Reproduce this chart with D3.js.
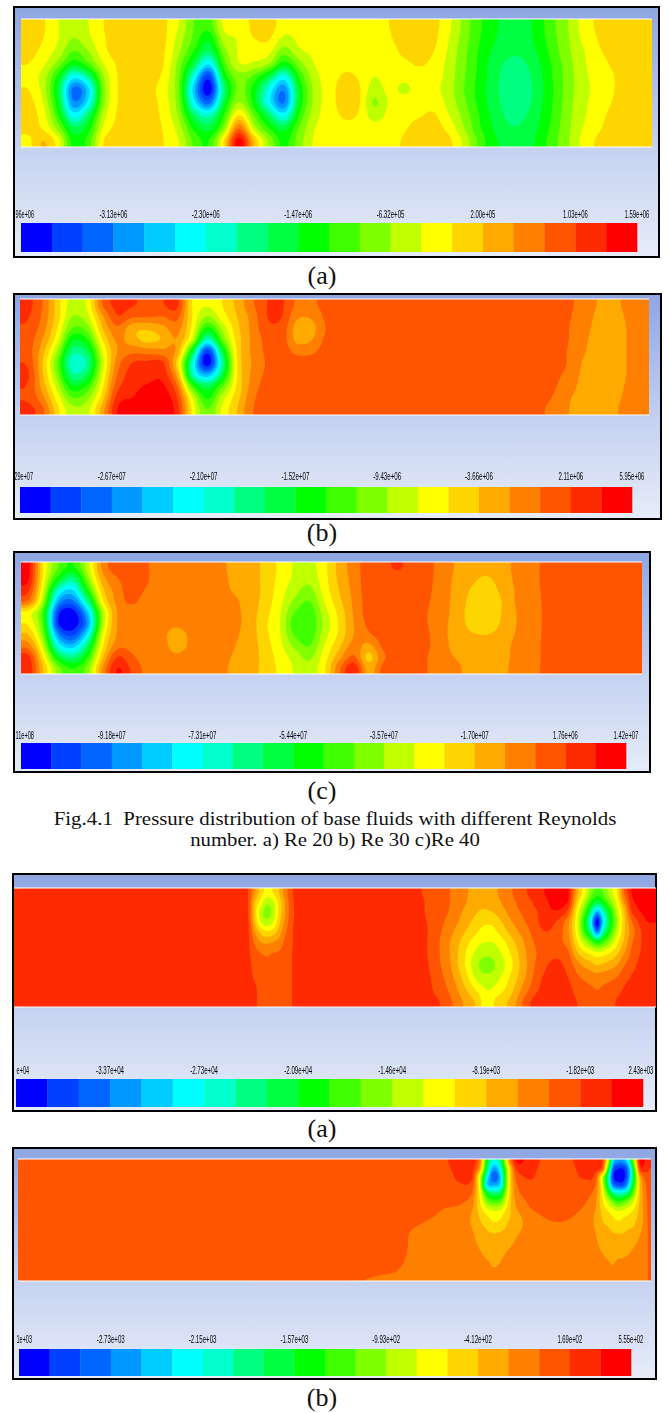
<!DOCTYPE html>
<html>
<head>
<meta charset="utf-8">
<script src="https://cdn.jsdelivr.net/npm/d3@7"></script>
<style>
  html, body { margin: 0; padding: 0; background: #fff; }
  svg { display: block; }
</style>
</head>
<body>
<script>
// the 20 pressure bands of the legend, low to high
var bandColors = ["#0000ff","#0040ff","#0066ff","#0099ff","#00ccff","#00ffff","#00ffcc","#00ff80","#00ff40","#00ff00",
                  "#40ff00","#80ff00","#bfff00","#ffff00","#ffd500","#ffaa00","#ff8000","#ff5500","#ff2b00","#ff0000"];

// legend ticks sit on these band edges
var tickBands = [0, 3, 6, 9, 12, 15, 18, 20];
var ticksA1 = ["96e+06","-3.13e+06","-2.30e+06","-1.47e+06","-6.32e+05","2.00e+05","1.03e+06","1.59e+06"];
var ticksB1 = ["29e+07","-2.67e+07","-2.10e+07","-1.52e+07","-9.43e+06","-3.66e+06","2.11e+06","5.95e+06"];
var ticksC1 = ["11e+08","-9.18e+07","-7.31e+07","-5.44e+07","-3.57e+07","-1.70e+07","1.76e+06","1.42e+07"];
var ticksA2 = ["e+04","-3.37e+04","-2.73e+04","-2.09e+04","-1.46e+04","-8.19e+03","-1.82e+03","2.43e+03"];
var ticksB2 = ["1e+03","-2.73e+03","-2.15e+03","-1.57e+03","-9.93e+02","-4.12e+02","1.69e+02","5.55e+02"];

var fieldA1 = [
[14.5,14.5,14.3,14,13.4,14,14.3,14.4,14.3,13.8],
[14.1,14,13.7,13.2,12.5,12.5,12.9,13.4,13.8,15],
[13,13,12.6,11.5,9.5,8.5,9,10,11.5,13.3],
[12.5,12,11,9.3,5.5,2.7,3.2,5.5,8.2,9.5],
[13,12.8,12,10.8,7.5,4.8,5.5,8,9.5,10.5],
[14,13.9,13.7,13,12,11.5,11.7,12.5,13.2,14],
[14.5,14.5,14.5,14.2,14.1,14.1,14.1,14.2,14.3,14.5],
[14.5,14.5,14.5,14.5,14.5,14.5,14.5,14.5,14.5,14.5],
[14.5,14.5,14.5,14.5,14.4,14.3,14.4,14.4,14.5,14.5],
[14.2,14.2,14.1,14,13.7,13.4,13.5,13.7,13.9,14],
[13,12.6,12.2,11.6,11.2,11.1,11.3,11.8,12.5,13],
[11,10.8,10,8.5,6,4.5,5.5,8,9.7,10.8],
[10.5,9.3,8,5.2,1.5,0.3,2.5,6.5,8.5,10],
[13.2,12.5,11.5,10.5,9,7.5,8.5,10,11.5,14],
[13.2,13.1,13.1,12.9,11.5,11.3,12,14,16.8,19.5],
[14.3,14,13.4,12.8,10.7,9.5,9.5,11,12.5,15],
[14.5,14.1,13.3,12,8.5,6,5.5,8,10,11.8],
[13.4,12.8,11.5,9.5,5.8,3.2,2.9,5.5,8.5,9.7],
[13.3,13.2,12.8,11.5,10,9,9,10,11,11.5],
[13.5,13.4,13.2,13,12.5,12.2,12.2,12.5,12.9,13.1],
[13.5,13.5,13.5,13.5,13.5,13.5,13.5,13.5,13.5,13.5],
[13.7,13.7,13.7,13.8,14.1,14.4,14.4,14.1,13.8,13.7],
[13.7,13.7,13.7,13.7,13.9,14.1,14.1,13.9,13.7,13.6],
[13.7,13.6,13.6,13.4,13,12.5,11.9,12.5,13.4,13.6],
[14,13.9,13.7,13.6,13.5,13.3,13.1,13.3,13.6,13.7],
[14.5,14.4,14.2,13.8,13.3,12.8,13.5,13.7,13.9,14.1],
[14.6,14.6,14.4,14.1,13.6,13.4,13.4,13.9,14.3,14.5],
[14.3,14.2,14,13.7,13.5,13.3,13.6,14.1,14.4,14.5],
[13.2,13,12.8,12.6,12.5,12.4,12.6,13,13.6,14.2],
[11.6,11.5,11.3,11.2,11.1,11,11.2,11.6,12,12.7],
[10.2,10.1,9.9,9.8,9.7,9.6,9.7,10,10.2,10.7],
[9.2,9.1,8.8,8.5,8.4,8.3,8.4,8.6,8.9,9.2],
[8.6,8.4,8.2,7.8,7.5,7.5,7.6,7.8,8.1,8.5],
[8.6,8.5,8.3,7.9,7.6,7.5,7.6,7.9,8.2,8.3],
[9.6,9.5,9.2,8.9,8.7,8.6,8.7,8.9,9.1,9.4],
[10.9,10.8,10.6,10.3,10.2,10.1,10.2,10.3,10.5,10.7],
[12.1,12,11.9,11.7,11.6,11.6,11.7,11.8,11.9,12],
[13.5,13.3,13,12.9,12.8,12.7,12.8,12.9,13.1,13.4],
[14.2,14.1,13.9,13.6,13.4,13.4,13.5,13.7,13.9,14.2],
[14.5,14.5,14.4,14.2,14,14,14.1,14.3,14.4,14.5],
[14.5,14.5,14.5,14.5,14.5,14.5,14.5,14.5,14.5,14.5],
[14.5,14.5,14.5,14.5,14.5,14.5,14.5,14.5,14.5,14.5]
];

var fieldB1 = [
[18.3,18.1,17.8,17.5,17.5,17.8,18.2,17.9,17.8,18.4],
[17,16.8,16.5,16,15.4,15,15.2,15.6,16.3,17.2],
[14.5,14.5,14,13.3,12,11,11.5,12.5,13.5,14.3],
[12.5,12,11,9.2,7.5,6.4,7.3,9.2,11,12.3],
[13.2,12.7,11.5,10,8.3,7.2,8.3,10.2,11.7,12.7],
[17,15.8,15,14,13,12.5,13,13.7,14.5,15.5],
[18.3,17.9,16.8,16.2,16,16.5,17,17.6,18.4,19],
[18.1,17.2,15.4,15.4,16.7,18,18.4,18.6,19,19.5],
[17.6,17.1,15.2,14.7,16.5,18.2,18.5,19.1,19.5,19.6],
[17.9,17,15.7,15.1,16.3,18.2,18.6,19.2,19.6,19.6],
[18.2,17.3,16.4,15.9,15.6,14.5,15.5,17,18,18.5],
[14,14,13.7,12.7,9,6.5,7,10.5,13,13.8],
[13.1,12,9.8,6.5,1.5,0.3,4,8.2,9.8,11],
[14,13.5,12.3,11,8.5,7,8.3,10.8,12.5,13.2],
[15.3,15,14.7,14.4,14.2,14,14,14.2,14.6,15],
[16.8,16.4,16.3,16.2,16.2,16.1,16.2,16.4,16.7,16.9],
[18,18,17.7,17.3,17.2,17.1,17.2,17.4,17.5,17.5],
[18.1,18,17.6,17.5,17.5,17.5,17.5,17.5,17.5,17.5],
[16.8,16.2,15.6,15.7,16.7,17.4,17.5,17.5,17.5,17.5],
[16.8,16.2,15.7,16,16.8,17.4,17.5,17.5,17.5,17.5],
[17.4,17.3,17.1,17.3,17.5,17.5,17.5,17.5,17.5,17.5],
[17.5,17.5,17.5,17.5,17.5,17.5,17.5,17.5,17.5,17.5],
[17.5,17.5,17.5,17.5,17.5,17.5,17.5,17.5,17.5,17.5],
[17.5,17.5,17.5,17.5,17.5,17.5,17.5,17.5,17.5,17.5],
[17.5,17.5,17.5,17.5,17.5,17.5,17.5,17.5,17.5,17.5],
[17.5,17.5,17.5,17.5,17.5,17.5,17.5,17.5,17.5,17.5],
[17.5,17.5,17.5,17.5,17.5,17.5,17.5,17.5,17.5,17.5],
[17.5,17.5,17.5,17.5,17.5,17.5,17.5,17.5,17.5,17.5],
[17.5,17.5,17.5,17.5,17.5,17.5,17.5,17.5,17.5,17.5],
[17.5,17.5,17.5,17.5,17.5,17.5,17.5,17.5,17.5,17.5],
[17.5,17.5,17.5,17.5,17.5,17.5,17.5,17.5,17.5,17.5],
[17.5,17.5,17.5,17.5,17.5,17.5,17.5,17.5,17.5,17.5],
[17.5,17.5,17.5,17.5,17.5,17.5,17.5,17.5,17.5,17.5],
[17.5,17.5,17.5,17.5,17.5,17.5,17.5,17.5,17.5,17.5],
[17.5,17.5,17.5,17.5,17.5,17.5,17.4,17.3,17.2,17.2],
[17.5,17.5,17.5,17.5,17.4,17.4,17.3,17.2,17,16.8],
[17.3,17.2,17.1,17.1,17,17,16.8,16.5,16.2,16.1],
[16.6,16.5,16.4,16.3,16.2,16,15.9,15.8,15.7,15.6],
[16,15.9,15.8,15.7,15.6,15.5,15.5,15.5,15.5,15.5],
[15.8,15.7,15.6,15.5,15.5,15.5,15.5,15.6,15.7,15.8],
[16.2,16.1,16,16,16,16,16,16.1,16.2,16.3],
[16.9,16.9,16.8,16.8,16.8,16.8,16.8,16.9,16.9,16.9]
];

var fieldC1 = [
[19.3,19.1,18.2,16.8,13.6,13.8,15,16.5,18.3,18.7],
[14,13.7,13,12,10.3,10.5,11.3,12.6,14,15],
[11,9.5,6.5,4,1.6,1.2,3.5,6,9,11.5],
[9.8,7.5,5,2.8,0.5,0.3,1.8,4.5,7.5,10],
[12.5,11.5,9.8,7.3,4.5,3.5,5.5,8,10,11.5],
[16.2,15.5,14.6,13.7,12,12,13,13.8,14.8,16],
[17.6,16.9,16.5,16.3,16,16,16.1,16.6,18,19],
[17.7,17.6,17.5,17.2,16.5,16.5,16.5,16.7,17.2,17.8],
[17.1,17.1,16.9,16.5,16.5,16.5,16.5,16.5,16.5,16.7],
[16.5,16.5,16.5,16.5,16.4,16.4,16.3,16.4,16.5,16.5],
[16.5,16.5,16.5,16.5,16.5,16.2,15.6,15.6,16.2,16.5],
[16.5,16.5,16.5,16.5,16.5,16.5,16.2,16.2,16.5,16.5],
[16.5,16.5,16.5,16.5,16.5,16.5,16.5,16.5,16.5,16.5],
[16.2,16.2,16.2,16.2,16.2,16.2,16.2,16.2,16.2,16.2],
[15.7,15.8,15.9,16.1,16.2,16.2,16.1,16,15.9,15.8],
[15.5,15.5,15.5,15.5,15.5,15.5,15.5,15.5,15.5,15.5],
[14.7,14.7,14.7,14.6,14.4,14.2,14.3,14.5,14.6,14.6],
[13.8,13.7,13.5,13.3,13.1,13,13.1,13.3,13.6,13.8],
[12.9,12.8,12.4,11.8,11,10.4,10.9,11.8,12.6,12.9],
[12.6,12.3,11.7,11,10.4,10.2,10.4,11,11.8,12.4],
[13.7,13.6,13.4,13,12.5,12.2,12.5,13,13.5,13.8],
[15.3,15.2,15,14.7,14.3,14.1,14.2,14.8,15.6,16.7],
[16.5,16.4,16.3,16.2,16.1,16,16,16.4,17.2,18.8],
[17.5,17.5,17.5,17.4,17.4,17.2,16.8,15.7,14.7,15.5],
[17.7,17.5,17.5,17.5,17.5,17.5,17.5,17.2,16.8,17.3],
[18.1,17.5,17.5,17.5,17.5,17.5,17.5,17.5,17.5,17.5],
[17.5,17.5,17.5,17.5,17.5,17.5,17.5,17.5,17.5,17.5],
[17.4,17.3,17.2,17.1,17,17,17.1,17.1,17,17],
[16.4,16.4,16.4,16.4,16.4,16.3,16.3,16.4,16.4,16.4],
[15.9,15.8,15.7,15.6,15.5,15.5,15.5,15.6,15.9,16.2],
[15.4,15.2,14.9,14.7,14.6,14.7,15.1,15.4,15.5,15.5],
[15.3,14.9,14.6,14.5,14.5,14.6,15,15.4,15.5,15.5],
[15.5,15.4,15.2,15,15,15.1,15.3,15.5,15.5,15.6],
[16.3,16.2,16.1,16.1,16,16,16.1,16.3,16.4,16.5],
[16.7,16.7,16.6,16.5,16.4,16.4,16.5,16.6,16.6,16.7],
[17.2,17.2,17.2,17.2,17.2,17.2,17.2,17.2,17.2,17.2],
[17.5,17.5,17.5,17.5,17.5,17.5,17.5,17.5,17.5,17.5],
[17.5,17.5,17.5,17.5,17.5,17.5,17.5,17.5,17.5,17.5],
[17.5,17.5,17.5,17.5,17.5,17.5,17.5,17.5,17.5,17.5],
[17.5,17.5,17.5,17.5,17.5,17.5,17.5,17.5,17.5,17.5],
[17.5,17.5,17.5,17.5,17.5,17.5,17.5,17.5,17.5,17.5],
[17.5,17.5,17.5,17.5,17.5,17.5,17.5,17.5,17.5,17.5]
];

// the nanofluid plots have tight peaks, so their stations are closer together there
var stationsA2 = [86,221,234,241,247,253,259,265,271,278,286,386,408,422,436,451,464,473,482,497,513,527,542,554,563,570,577,583,589,596,603,610,618,631];
var depthsA2 = [5,14,24,34,44,54,65,77,89,102,114];
var fieldA2 = [
[18.5,18.5,18.5,18.5,18.5,18.5,18.5,18.5,18.5,18.5,18.5],
[18.5,18.5,18.5,18.5,18.5,18.5,18.5,18.5,18.5,18.5,18.5],
[18,18,18,18.1,18.2,18.2,18.2,18.3,18.3,18.4,18.4],
[15.9,15,14.6,15,16,16.8,17.4,17.7,17.9,18.1,18.1],
[14.5,13.5,12.5,13,14.7,16,17,17.5,17.7,17.8,17.8],
[13.5,12.2,11.7,12.3,14.2,15.8,16.8,17.3,17.5,17.6,17.6],
[14,12.8,12.3,13,14.5,16,17,17.4,17.5,17.6,17.6],
[15,14.3,14.3,14.7,15.5,16.4,17.1,17.5,17.6,17.6,17.6],
[16.5,16,16,16.3,16.8,17.2,17.5,17.6,17.6,17.6,17.6],
[17.9,17.8,17.7,17.8,17.9,17.9,18,18,18,18,18],
[18.5,18.5,18.5,18.5,18.5,18.5,18.5,18.5,18.5,18.5,18.5],
[18.5,18.5,18.5,18.5,18.5,18.5,18.5,18.5,18.5,18.5,18.5],
[18,18.1,18.1,18.2,18.3,18.3,18.3,18.4,18.5,18.5,18.5],
[17.5,17.5,17.5,17.5,17.4,17.3,17.3,17.4,17.6,17.8,18.2],
[17,17,16.9,16.6,16.3,16,16,16.1,16.4,16.8,17.2],
[16.2,16.1,15.8,15.5,15,14.5,14.1,14,14.5,15.2,15.8],
[15.4,15.3,15,14.5,14,13.3,12.6,12.1,12.6,13.8,14.7],
[15.3,15.2,14.9,14.2,13.4,13,12.2,11.7,12.2,13,13.1],
[15.9,15.7,15.2,14.5,13.9,13.2,12.6,12.1,12.6,13.4,14.3],
[16.9,16.7,16.4,15.9,15.3,14.6,14.1,13.8,14.2,14.7,15.3],
[18,17.7,17.4,17.1,16.7,16.3,16.1,16,16.2,16.8,17.6],
[18.8,18.5,18.2,18.1,17.9,17.5,17.3,17.6,17.9,18.2,18.7],
[19.5,19.4,18.9,18,17.7,17.4,17.8,18.2,18.4,18.6,18.9],
[19.2,18.9,17.6,16.3,16.2,16.5,17.2,17.7,18,18.3,18.4],
[15.5,14.7,13.7,13.3,13.5,14.2,15.2,16.5,17.2,17.7,18],
[13.5,12.5,11,9.8,10.5,12.5,14.3,15.8,16.8,17.4,17.7],
[11.5,10,7.5,5.5,7.5,11,13.7,15.4,16.5,17.2,17.5],
[10.5,8.5,4,0.3,3,9.5,13.2,15,16.4,17,17.5],
[11,9.5,6.5,5,7,10.5,13.5,15.2,16.5,17.2,17.5],
[12.5,11.5,9.5,9,10,12,14,15.5,16.7,17.4,17.6],
[14,13.3,12.5,12,12.7,13.7,14.8,16,17,17.7,18.1],
[17,16,14.9,14.7,14.8,15.2,16,16.9,17.6,18.1,18.3],
[19.1,18.7,18.1,17,16.6,16.9,17.3,17.7,18.1,18.4,18.5],
[19.5,19.5,19.2,18.9,18.4,18.3,18.3,18.5,18.5,18.5,18.5]
];

var stationsB2 = [82,232,377,402,427,442,454,462,469,476,483,490,498,510,522,537,552,567,577,584,590,595,600,605,610,616,622,628,632];
var depthsB2 = [2,10,18,26,34,42,52,63,76,91,106,119];
var fieldB2 = [
[17.5,17.5,17.5,17.5,17.5,17.5,17.5,17.5,17.5,17.5,17.5,17.5],
[17.5,17.5,17.5,17.5,17.5,17.5,17.5,17.5,17.5,17.5,17.5,17.5],
[17.5,17.5,17.5,17.5,17.5,17.5,17.5,17.5,17.5,17.5,17.2,16.9],
[17.5,17.5,17.5,17.5,17.5,17.5,17.5,17.1,16.6,16.5,16.5,16.5],
[17.9,17.8,17.6,17.5,17.4,17.3,16.9,16.6,16.5,16.5,16.5,16.5],
[18.4,18.3,18.2,17.9,17.6,17.2,16.7,16.5,16.5,16.5,16.5,16.5],
[18.6,18.4,18.1,17.5,17,16.5,16,15.9,16.2,16.5,16.5,16.5],
[16.5,15.5,13,13,13.7,14,14.6,15.1,15.4,16,16.4,16.5],
[9,8,6,5,9,11.5,13.5,14.6,15.2,15.6,16.2,16.5],
[6,3.5,2,4,7.5,10.5,13,14,15.1,15.5,15.9,16.5],
[8,6.5,5,5.5,8.5,11,13.3,14.3,15.2,15.7,16.1,16.5],
[15,13,13,13,13.5,14,14.6,15,15.4,16,16.4,16.5],
[19,18,17.2,16.8,16.5,16.2,15.8,15.3,15.9,16.3,16.5,16.5],
[18.7,18.3,18.1,17.7,17.4,17.1,16.8,16.5,16.5,16.5,16.5,16.5],
[18,17.9,17.8,17.7,17.6,17.4,17.1,16.8,16.5,16.5,16.5,16.5],
[17.6,17.6,17.6,17.6,17.5,17.5,17.3,17,16.6,16.5,16.5,16.5],
[17.9,17.8,17.7,17.6,17.5,17.4,17.2,16.9,16.5,16.5,16.5,16.5],
[18.4,18.3,18.1,17.7,17.4,17.1,16.8,16.5,16.5,16.5,16.5,16.5],
[18.5,18.3,17.7,17.1,16.6,16.3,16,15.9,16.1,16.4,16.5,16.5],
[18.3,17.5,13.2,13.5,14,14.3,14.8,15.1,15.4,15.9,16.4,16.5],
[13,10.5,7.5,8,10.5,12.6,14,14.8,15.3,15.6,16.2,16.5],
[5,2.5,1.5,3,7.5,11,13.4,14.4,15.1,15.4,16,16.5],
[3.5,1,0.2,2,6.5,10,13,14.1,15.1,15.5,16.3,16.5],
[3.5,1,0.4,2,6.5,10.5,13.2,14.3,15.1,15.6,16.3,16.5],
[5.5,3,3,4.5,8,11.5,13.6,14.5,15.3,15.8,16.4,16.5],
[12,10,9,10,11.5,13,14.2,14.8,15.5,16.1,16.5,16.5],
[19.2,18,15.5,15,15,15.2,15.4,15.6,16,16.4,16.5,16.5],
[18.8,18.3,17.5,17,16.9,16.7,16.6,16.5,16.5,16.5,16.5,16.5],
[18.3,18,17.6,17.5,17.5,17.5,17.5,17.5,17.5,17.5,17.5,17.5]
];

var captionLines = ["Fig.4.1  Pressure distribution of base fluids with different Reynolds", "number. a) Re 20 b) Re 30 c)Re 40"];
var captionWidths = [563, 290];

// layout of each window: frame, plot area, legend bar, label under it
var panels = [
  {field: fieldA1, ticks: ticksA1, name: "(a)", frame: [14, 7, 659, 257], plot: [21, 19, 652, 147], bar: [21, 223, 637, 252], tickY: 218, nameY: 284},
  {field: fieldB1, ticks: ticksB1, name: "(b)", frame: [14, 294, 661, 519], plot: [20, 299, 649, 415], bar: [20, 487, 632, 513], tickY: 480, nameY: 541},
  {field: fieldC1, ticks: ticksC1, name: "(c)", frame: [14, 552, 650, 772], plot: [21, 562, 642, 674], bar: [21, 743, 626, 769], tickY: 739, nameY: 799},
  {field: fieldA2, ticks: ticksA2, name: "(a)", stations: stationsA2, depths: depthsA2, frame: [13, 874, 656, 1111], plot: [14, 888, 656, 1007], bar: [16, 1079, 643, 1107], tickY: 1074, nameY: 1137},
  {field: fieldB2, ticks: ticksB2, name: "(b)", stations: stationsB2, depths: depthsB2, frame: [13, 1148, 656, 1379], plot: [18, 1159, 651, 1281], bar: [19, 1349, 631, 1376], tickY: 1343, nameY: 1406}
];

var width = 669, height = 1413;
var steps = 8; // samples per grid cell when the field is contoured

var svg = d3.select("body").append("svg")
  .attr("width", width)
  .attr("height", height)
  .attr("viewBox", "0 0 " + width + " " + height);

var defs = svg.append("defs");

var grad = defs.append("linearGradient")
  .attr("id", "frameFill")
  .attr("x1", 0).attr("y1", 0).attr("x2", 0).attr("y2", 1);
grad.append("stop").attr("offset", "0%").attr("stop-color", "#8ea6e3");
grad.append("stop").attr("offset", "60%").attr("stop-color", "#c8d4f1");
grad.append("stop").attr("offset", "100%").attr("stop-color", "#e6ecf9");

var soft = defs.append("filter").attr("id", "soft")
  .attr("x", "-2%").attr("y", "-5%").attr("width", "104%").attr("height", "110%");
soft.append("feGaussianBlur").attr("stdDeviation", 0.5);

var softText = defs.append("filter").attr("id", "softText")
  .attr("x", "-10%").attr("y", "-30%").attr("width", "120%").attr("height", "160%");
softText.append("feGaussianBlur").attr("stdDeviation", 0.3);

function catmull(a, b, c, d, t) {
  return 0.5 * (2 * b + (c - a) * t + (2 * a - 5 * b + 4 * c - d) * t * t + (3 * b - a - 3 * c + d) * t * t * t);
}

// smooth the hand read grid so that the contours come out round
function resample(field) {
  var n = field.length, m = field[0].length;
  var w = n * steps, h = m * steps;
  var values = new Float64Array(w * h);
  var col = function(i) { return field[Math.max(0, Math.min(n - 1, i))]; };
  for (var j = 0; j < h; j++) {
    var s = (j + 0.5) / steps - 0.5, j0 = Math.floor(s), fy = s - j0;
    var r = [j0 - 1, j0, j0 + 1, j0 + 2].map(function(v) { return Math.max(0, Math.min(m - 1, v)); });
    for (var i = 0; i < w; i++) {
      var t = (i + 0.5) / steps - 0.5, i0 = Math.floor(t), fx = t - i0;
      var q = r.map(function(k) {
        return catmull(col(i0 - 1)[k], col(i0)[k], col(i0 + 1)[k], col(i0 + 2)[k], fx);
      });
      values[i + j * w] = catmull(q[0], q[1], q[2], q[3], fy);
    }
  }
  return {values: values, w: w, h: h, n: n, m: m};
}

panels.forEach(function(p, idx) {
  var g = svg.append("g");
  var f = p.frame, pl = p.plot, b = p.bar;

  g.append("rect")
    .attr("x", f[0]).attr("y", f[1])
    .attr("width", f[2] - f[0]).attr("height", f[3] - f[1])
    .attr("fill", "url(#frameFill)")
    .attr("stroke", "#000")
    .attr("stroke-width", 2);

  var grid = resample(p.field);

  // stations along the channel and depths across it, in the plot's own units
  var along = d3.scaleLinear().domain([0, pl[2] - pl[0]]).range([pl[0], pl[2]]);
  var across = d3.scaleLinear().domain([0, pl[3] - pl[1]]).range([pl[1], pl[3]]);
  var stations = p.stations || d3.range(grid.n).map(function(i) { return (i + 0.5) * (pl[2] - pl[0]) / grid.n; });
  var depths = p.depths || d3.range(grid.m).map(function(i) { return (i + 0.5) * (pl[3] - pl[1]) / grid.m; });

  var xIndex = d3.scaleLinear()
    .domain([-0.5].concat(d3.range(grid.n), [grid.n - 0.5]))
    .range([pl[0]].concat(stations.map(along), [pl[2]]));
  var yIndex = d3.scaleLinear()
    .domain([-0.5].concat(d3.range(grid.m), [grid.m - 0.5]))
    .range([pl[1]].concat(depths.map(across), [pl[3]]));

  var toPage = d3.geoTransform({
    point: function(x, y) {
      this.stream.point(xIndex(x / steps - 0.5), yIndex(y / steps - 0.5));
    }
  });
  var path = d3.geoPath(toPage);

  var contours = d3.contours()
    .size([grid.w, grid.h])
    .thresholds(d3.range(1, 20))(grid.values);

  defs.append("clipPath").attr("id", "plotClip" + idx)
    .append("rect")
    .attr("x", pl[0]).attr("y", pl[1])
    .attr("width", pl[2] - pl[0]).attr("height", pl[3] - pl[1]);

  var plot = g.append("g")
    .attr("clip-path", "url(#plotClip" + idx + ")")
    .append("g")
    .attr("filter", "url(#soft)");

  plot.append("rect")
    .attr("x", pl[0] - 2).attr("y", pl[1] - 2)
    .attr("width", pl[2] - pl[0] + 4).attr("height", pl[3] - pl[1] + 4)
    .attr("fill", bandColors[0]);

  plot.selectAll("path")
    .data(contours)
    .enter().append("path")
    .attr("d", path)
    .attr("fill", function(d) { return bandColors[d.value]; });

  // white edges top and bottom of the plot
  g.selectAll("line.edge")
    .data([pl[1], pl[3]])
    .enter().append("line")
    .attr("class", "edge")
    .attr("x1", pl[0]).attr("x2", pl[2])
    .attr("y1", function(d) { return d; }).attr("y2", function(d) { return d; })
    .attr("stroke", "#fff")
    .attr("stroke-width", 1.2);

  // legend bar
  var barX = d3.scaleLinear().domain([0, bandColors.length]).range([b[0], b[2]]);
  g.append("g").selectAll("rect")
    .data(bandColors)
    .enter().append("rect")
    .attr("x", function(d, i) { return barX(i); })
    .attr("y", b[1])
    .attr("width", barX(1) - barX(0) + 0.3)
    .attr("height", b[3] - b[1])
    .attr("fill", function(d) { return d; });

  // the tick labels are squeezed sideways, as in the exported picture
  g.append("g")
    .attr("filter", "url(#softText)")
    .selectAll("text")
    .data(p.ticks)
    .enter().append("text")
    .attr("text-anchor", function(d, i) { return i === 0 ? "end" : "middle"; })
    .attr("font-family", "Liberation Sans")
    .attr("font-size", 11)
    .attr("fill", "#000")
    .text(function(d) { return d; })
    .attr("transform", function(d, i) {
      var x = i === 0 ? b[0] + 13 : Math.min(barX(tickBands[i]), f[2] - 15);
      var squeeze = d.length * 3.1 / this.getComputedTextLength();
      return "translate(" + x + "," + p.tickY + ") scale(" + squeeze + ",1)";
    });

  svg.append("text")
    .attr("x", 322)
    .attr("y", p.nameY)
    .attr("text-anchor", "middle")
    .attr("font-family", "Liberation Serif")
    .attr("font-size", 26)
    .attr("fill", "#111")
    .text(p.name);
});

svg.selectAll("text.caption")
  .data(captionLines)
  .enter().append("text")
  .attr("class", "caption")
  .attr("text-anchor", "middle")
  .attr("font-family", "Liberation Serif")
  .attr("font-size", 18)
  .attr("fill", "#111")
  .style("white-space", "pre")
  .text(function(d) { return d; })
  .attr("transform", function(d, i) {
    var stretch = captionWidths[i] / this.getComputedTextLength();
    return "translate(335," + (825 + i * 21) + ") scale(" + stretch + ",1)";
  });
</script>
</body>
</html>
